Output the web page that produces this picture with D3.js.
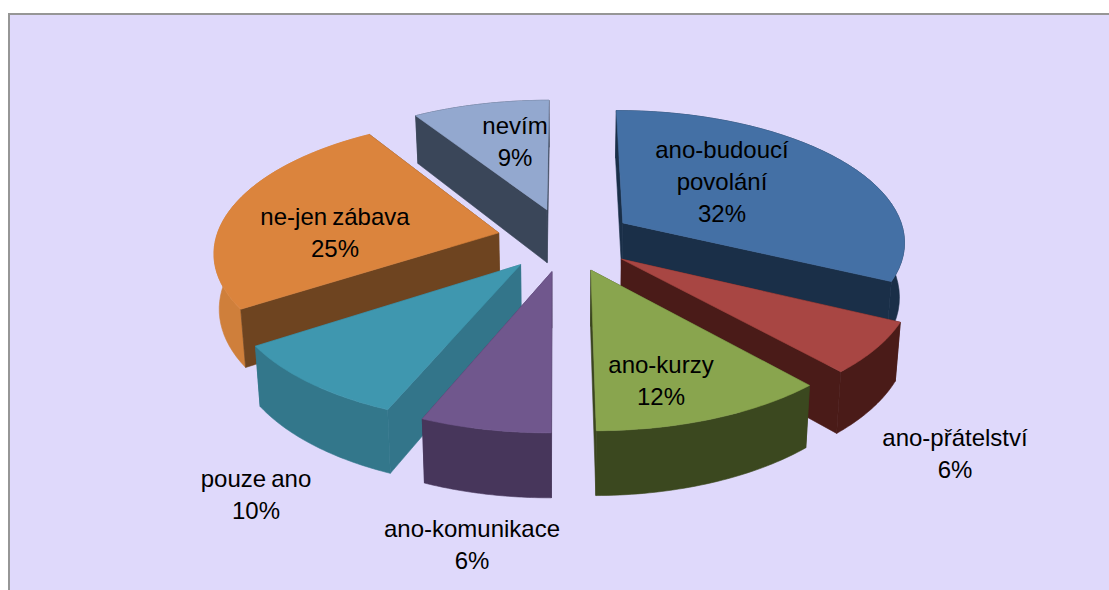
<!DOCTYPE html>
<html><head><meta charset="utf-8">
<script src="https://cdnjs.cloudflare.com/ajax/libs/d3/7.8.5/d3.min.js"></script>
<style>html,body{margin:0;padding:0;background:#fff}svg{display:block}</style>
</head><body><svg id="c" width="1109" height="590"></svg>
<script>
const categories = ["ano-budoucí povolání","ano-přátelství","ano-kurzy","ano-komunikace","pouze ano","ne-jen zábava","nevím"];
const values = [32.2,6.2,11.53,6.32,9.5,25.25,9];
const labelLines = [["ano-budoucí","povolání","32%"],["ano-přátelství","6%"],["ano-kurzy","12%"],["ano-komunikace","6%"],["pouze ano","10%"],["ne-jen zábava","25%"],["nevím","9%"]];
const topColors = ["#4470a5","#a84643","#89a54e","#70578d","#3f97af","#db843d","#93a8cf"];
const radialWall = ["#1a2f48","#4a1b18","#3a451e","#45345a","#33758a","#6e4420","#3a4659"];
const outerWall = ["#1a2f48","#4a1b18","#3b481f","#47365b","#33778b","#cf7f3b","#3a4659"];
const labelX = [722,955,661,472,256,335,515];
const labelY = [158,446,373,537,487,225,134];
const drawOrder = [6,0,5,4,1,2,3];

const W=1109,H=590,cx=565.5,cy=239.5,Rx=283,Ry=131,explode=.243,persp=.13,depth=54.5,shrink=.985;
const svg=d3.select("#c");
svg.append("rect").attr("x",9).attr("y",14).attr("width",W+5).attr("height",H)
  .attr("fill","#dfd9fb").attr("stroke","#969696").attr("stroke-width",2);

const sx=d3.scaleLinear().domain([0,1]).range([0,Rx]);
const sy=d3.scaleLinear().domain([0,1]).range([0,Ry]);
function project(u,v,bottom){
  const s=1/(1+persp*v);
  let x=sx(u)*s, y=-sy(v)*s;
  if(bottom){x*=shrink;y+=depth*s;}
  return [cx+x,cy+y];
}
const arcs=d3.pie().sort(null).startAngle(0).endAngle(2*Math.PI)(values);
const line=d3.line().curve(d3.curveLinear);
const g=svg.append("g");
drawOrder.forEach(i=>{
  const a=arcs[i], m=(a.startAngle+a.endAngle)/2;
  const ou=explode*Math.sin(m), ov=explode*Math.cos(m);
  const thetas=d3.range(0,41).map(k=>a.startAngle+(a.endAngle-a.startAngle)*k/40);
  const pt=(t,r,b)=>project(ou+r*Math.sin(t),ov+r*Math.cos(t),b);
  const walls=[
    {d:[pt(a.startAngle,0,false),pt(a.startAngle,1,false),pt(a.startAngle,1,true),pt(a.startAngle,0,true)],
     v:ov+.5*Math.cos(a.startAngle),c:radialWall[i]},
    {d:[pt(a.endAngle,0,false),pt(a.endAngle,1,false),pt(a.endAngle,1,true),pt(a.endAngle,0,true)],
     v:ov+.5*Math.cos(a.endAngle),c:radialWall[i]},
    {d:thetas.map(t=>pt(t,1,false)).concat(thetas.slice().reverse().map(t=>pt(t,1,true))),
     v:ov+Math.cos(m),c:outerWall[i]}
  ].sort((p,q)=>q.v-p.v);
  walls.forEach(w=>g.append("path").attr("d",line(w.d)+"Z").attr("fill",w.c).attr("stroke",w.c).attr("stroke-width",.6));
  g.append("path").attr("d",line([pt(0,0,false)].concat(thetas.map(t=>pt(t,1,false))))+"Z")
    .attr("fill",topColors[i]).attr("stroke",topColors[i]).attr("stroke-width",.6);
});
const t=svg.append("g").attr("font-family","'Liberation Sans',Arial,sans-serif").attr("font-size",24).attr("word-spacing",-1.5).attr("fill","#000").attr("text-anchor","middle");
labelLines.forEach((ls,i)=>{
  const tx=t.append("text").attr("x",labelX[i]).attr("y",labelY[i]);
  ls.forEach((s,k)=>tx.append("tspan").attr("x",labelX[i]).attr("dy",k?32:0).text(s));
});
</script></body></html>
